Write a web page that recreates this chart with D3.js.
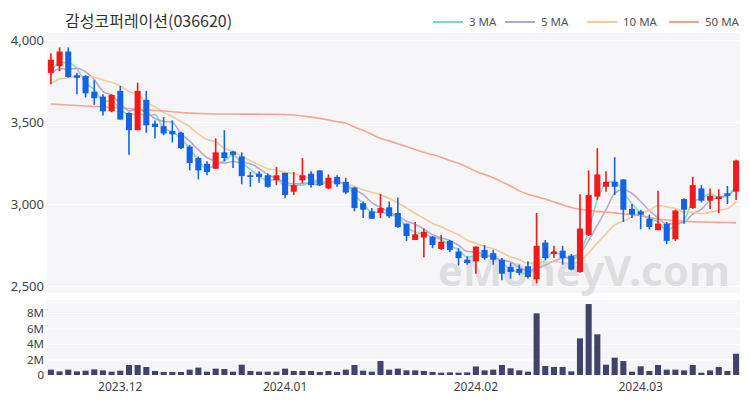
<!DOCTYPE html>
<html>
<head>
<meta charset="utf-8">
<script src="https://cdn.jsdelivr.net/npm/d3@7"></script>
<style>
  body { margin: 0; background: #fff; }
  svg { display: block; }
</style>
</head>
<body>
<svg id="chart" width="750" height="400"></svg>
<script>
/*************************************** data ***************************/
let dates = [
    "11.21", "11.22", "11.23", "11.24", "11.27", "11.28", "11.29", "11.30",
    "12.01", "12.04", "12.05", "12.06", "12.07", "12.08", "12.11", "12.12", "12.13", "12.14", "12.15",
    "12.18", "12.19", "12.20", "12.21", "12.22", "12.26", "12.27", "12.28",
    "01.02", "01.03", "01.04", "01.05", "01.08", "01.09", "01.10", "01.11", "01.12", "01.15", "01.16",
    "01.17", "01.18", "01.19", "01.22", "01.23", "01.24", "01.25", "01.26", "01.29", "01.30", "01.31",
    "02.01", "02.02", "02.05", "02.06", "02.07", "02.08", "02.13", "02.14", "02.15", "02.16", "02.19",
    "02.20", "02.21", "02.22", "02.23", "02.26", "02.27", "02.28", "02.29",
    "03.04", "03.05", "03.06", "03.07", "03.08", "03.11", "03.12", "03.13", "03.14", "03.15", "03.18", "03.19"
]
let opens = [
    3800, 3840, 3930, 3785, 3780, 3685, 3655, 3565, 3690, 3555,
    3450, 3635, 3490, 3475, 3445, 3435, 3350, 3280, 3245, 3215,
    3315, 3320, 3290, 3175, 3185, 3175, 3145, 3190, 3075, 3145,
    3185, 3205, 3095, 3165, 3135, 3100, 3005, 2955, 2945, 2980,
    2945, 2880, 2780, 2795, 2800, 2725, 2775, 2710, 2660, 2650,
    2720, 2700, 2660, 2615, 2605, 2620, 2540, 2765, 2695, 2715,
    2685, 2585, 2810, 3045, 3105, 3135, 3150, 2970, 2955, 2910,
    2840, 2880, 2785, 3030, 2975, 3095, 3020, 3030, 3065, 3075
]
let highs = [
    3920, 3955, 3955, 3800, 3785, 3755, 3670, 3670, 3720, 3560,
    3740, 3690, 3510, 3530, 3510, 3440, 3360, 3290, 3260, 3400,
    3450, 3325, 3315, 3195, 3200, 3185, 3225, 3190, 3195, 3280,
    3200, 3205, 3180, 3175, 3160, 3105, 3015, 2975, 3060, 3015,
    3040, 2880, 2890, 2850, 2805, 2810, 2780, 2730, 2680, 2740,
    2750, 2720, 2670, 2640, 2630, 2650, 2945, 2780, 2745, 2745,
    2695, 3060, 3205, 3340, 3200, 3285, 3150, 3000, 2965, 2935,
    3080, 2890, 2965, 3035, 3165, 3115, 3095, 3090, 3110, 3270
]
let lows = [
    3730, 3810, 3770, 3670, 3650, 3605, 3540, 3560, 3515, 3300,
    3450, 3435, 3400, 3420, 3375, 3335, 3205, 3150, 3175, 3215,
    3260, 3220, 3120, 3105, 3130, 3100, 3115, 3035, 3055, 3125,
    3100, 3110, 3090, 3105, 3060, 2955, 2915, 2910, 2915, 2915,
    2855, 2775, 2780, 2675, 2730, 2720, 2705, 2625, 2630, 2575,
    2660, 2630, 2535, 2545, 2565, 2545, 2515, 2660, 2670, 2630,
    2595, 2580, 2805, 3025, 3075, 3055, 2890, 2915, 2845, 2845,
    2840, 2755, 2775, 2880, 2970, 3010, 2970, 2945, 3000, 3025
]
let closes = [
    3880, 3930, 3775, 3770, 3675, 3645, 3565, 3665, 3515, 3450,
    3690, 3480, 3470, 3430, 3425, 3340, 3250, 3205, 3195, 3315,
    3280, 3300, 3170, 3165, 3165, 3105, 3175, 3055, 3115, 3175,
    3115, 3115, 3160, 3120, 3070, 2975, 2965, 2910, 2975, 2925,
    2860, 2805, 2815, 2830, 2750, 2770, 2720, 2670, 2640, 2740,
    2670, 2660, 2575, 2585, 2580, 2555, 2745, 2670, 2710, 2670,
    2600, 2850, 3055, 3180, 3135, 3105, 2965, 2935, 2935, 2860,
    2880, 2775, 2960, 2965, 3115, 3020, 3050, 3045, 3050, 3265
]
// closes before the first visible day, read back from the start of the short MA lines
let priorCloses = [3660, 3690, 3700, 3680, 3685, 3735, 3800, 3740, 3780]
// volume in millions of shares
let volumes = [
    0.69, 0.47, 0.69, 0.47, 0.56, 0.73, 0.60, 0.43, 0.56, 1.29,
    1.29, 1.03, 0.52, 0.39, 0.39, 0.39, 0.69, 0.95, 0.43, 0.82,
    0.77, 0.43, 1.33, 0.52, 0.43, 0.43, 0.43, 0.82, 0.52, 0.52,
    0.52, 0.39, 0.52, 0.39, 0.69, 1.29, 0.56, 0.43, 1.80, 0.69,
    0.82, 0.60, 0.60, 0.52, 0.39, 0.30, 0.34, 0.30, 0.34, 1.10,
    0.60, 0.69, 1.29, 0.86, 0.60, 0.43, 7.96, 1.16, 1.03, 1.03,
    0.47, 4.73, 9.16, 5.25, 1.33, 2.24, 1.80, 0.43, 1.12, 0.52,
    1.29, 0.69, 0.69, 0.60, 1.29, 0.30, 0.60, 1.03, 0.52, 2.75
]
// 50 day MA (needs history not shown)
let ma50 = [
    3610, 3607, 3604, 3601, 3598, 3595, 3592, 3589, 3586, 3582,
    3578, 3574, 3570, 3567, 3563, 3558, 3555, 3552, 3550, 3549,
    3549, 3549, 3548, 3548, 3548, 3547, 3547, 3545, 3543, 3537,
    3530, 3522, 3512, 3502, 3492, 3470, 3448, 3425, 3400, 3385,
    3368, 3350, 3332, 3315, 3300, 3285, 3265, 3248, 3225, 3200,
    3180, 3160, 3135, 3110, 3080, 3060, 3045, 3030, 3012, 2995,
    2978, 2968, 2960, 2955, 2950, 2946, 2940, 2935, 2928, 2918,
    2908, 2902, 2898, 2895, 2892, 2890, 2889, 2888, 2887, 2886
]
let monthTicks = ["12.01", "01.02", "02.01", "03.04"]
let monthLabels = ["2023.12", "2024.01", "2024.02", "2024.03"]
let priceTicks = [2500, 3000, 3500, 4000]
let volumeTicks = [0, 2, 4, 6, 8]
let maNames = ["3 MA", "5 MA", "10 MA", "50 MA"]

/*************************************** style ***************************/
let upColor = "#f01a1a"
let downColor = "#1463e0"
let volColor = "#41436a"
let maColors = ["#7fd6cb", "#b3a6d4", "#f4c892", "#f5a08e"]
let panelBg = "#f6f6f8"
let textColor = "#444"
let numFont = "'Noto Sans', sans-serif"

/*************************************** helpers ***************************/
function movingAverage(n) {
    let all = priorCloses.concat(closes)
    let off = priorCloses.length
    return closes.map((c, i) => {
        let s = 0
        for (let k = 0; k < n; k++) s += all[off + i - k]
        return s / n
    })
}

function drawChart() {
    const svg = d3.select("#chart")
    const left = 47, right = 740
    const priceTop = 33, priceBottom = 293
    const volTop = 300, volBottom = 375

    let xScale = d3.scaleBand()
        .domain(dates)
        .range([left, right])
        .paddingInner(0.3)
        .paddingOuter(0.1)
    let xc = d => xScale(d) + xScale.bandwidth() / 2

    let yScale = d3.scaleLinear()
        .domain([2457, 4043])
        .range([priceBottom, priceTop])
    let vScale = d3.scaleLinear()
        .domain([0, 9.68])
        .range([volBottom, volTop])

    // panel backgrounds
    svg.append("rect").attr("x", left).attr("y", priceTop)
        .attr("width", right - left).attr("height", priceBottom - priceTop)
        .attr("fill", panelBg)
    svg.append("rect").attr("x", left).attr("y", volTop)
        .attr("width", right - left).attr("height", volBottom - volTop)
        .attr("fill", panelBg)

    // price axis + grid
    svg.append("g")
        .attr("transform", "translate(" + left + ",0)")
        .call(d3.axisLeft(yScale).tickValues(priceTicks).tickFormat(d3.format(",")).tickSize(-(right - left)).tickPadding(3))
        .call(g => g.select(".domain").remove())
        .call(g => g.selectAll("line").attr("stroke", "#fff").attr("stroke-width", 1.2))
        .call(g => g.selectAll("text").attr("fill", textColor).style("font-size", "13px").style("font-family", numFont))

    // volume axis + grid
    svg.append("g")
        .attr("transform", "translate(" + left + ",0)")
        .call(d3.axisLeft(vScale).tickValues(volumeTicks).tickFormat(d => d === 0 ? "0" : d + "M").tickSize(-(right - left)).tickPadding(3))
        .call(g => g.select(".domain").remove())
        .call(g => g.selectAll("line").attr("stroke", "#fff").attr("stroke-width", 1.2))
        .call(g => g.selectAll("text").attr("fill", textColor).style("font-size", "11.5px").style("font-family", numFont))

    // x axis labels
    svg.append("g")
        .attr("transform", "translate(0," + volBottom + ")")
        .call(d3.axisBottom(xScale).tickValues(monthTicks).tickFormat((d, i) => monthLabels[i]).tickSize(0).tickPadding(7))
        .call(g => g.select(".domain").remove())
        .call(g => g.selectAll("text").attr("fill", textColor).style("font-size", "12px").style("font-family", numFont))

    // watermark
    svg.append("text")
        .attr("x", 730).attr("y", 286)
        .attr("text-anchor", "end")
        .style("font-family", "'Noto Sans', sans-serif")
        .style("font-size", "42px")
        .style("font-weight", "bold")
        .attr("fill", "#d6d6d8")
        .attr("fill-opacity", 0.75)
        .text("eMoneyV.com")

    // moving averages
    let maSeries = [movingAverage(3), movingAverage(5), movingAverage(10), ma50]
    let line = d3.line()
        .x((d, i) => xc(dates[i]))
        .y(d => yScale(d))
        .curve(d3.curveMonotoneX)
    svg.selectAll(".maLine")
        .data(maSeries)
        .enter()
        .append("path")
        .attr("class", "maLine")
        .attr("d", d => line(d))
        .attr("fill", "none")
        .attr("stroke", (d, i) => maColors[i])
        .attr("stroke-width", 1.6)
        .attr("stroke-opacity", 0.95)

    // candles
    let idx = d3.range(dates.length)
    let colorOf = i => closes[i] >= opens[i] ? upColor : downColor
    svg.selectAll(".wick")
        .data(idx)
        .enter()
        .append("line")
        .attr("class", "wick")
        .attr("x1", i => xc(dates[i]))
        .attr("x2", i => xc(dates[i]))
        .attr("y1", i => yScale(highs[i]))
        .attr("y2", i => yScale(lows[i]))
        .attr("stroke", colorOf)
        .attr("stroke-width", 1.6)
    svg.selectAll(".body")
        .data(idx)
        .enter()
        .append("rect")
        .attr("class", "body")
        .attr("x", i => xScale(dates[i]))
        .attr("width", xScale.bandwidth())
        .attr("y", i => yScale(Math.max(opens[i], closes[i])))
        .attr("height", i => Math.max(1.5, Math.abs(yScale(opens[i]) - yScale(closes[i]))))
        .attr("fill", colorOf)

    // volume bars
    svg.selectAll(".vol")
        .data(idx)
        .enter()
        .append("rect")
        .attr("class", "vol")
        .attr("x", i => xScale(dates[i]))
        .attr("width", xScale.bandwidth())
        .attr("y", i => vScale(volumes[i]))
        .attr("height", i => volBottom - vScale(volumes[i]))
        .attr("fill", volColor)

    // title
    svg.append("text")
        .attr("x", 65).attr("y", 27)
        .style("font-family", "'Noto Sans CJK KR', sans-serif")
        .style("font-size", "16px")
        .attr("fill", "#333")
        .text("감성코퍼레이션(036620)")

    // legend
    let legendX = [433, 505, 587, 669]
    let lg = svg.selectAll(".legend")
        .data(maNames)
        .enter()
        .append("g")
        .attr("class", "legend")
        .attr("transform", (d, i) => "translate(" + legendX[i] + ",22)")
    lg.append("line")
        .attr("x1", 0).attr("x2", 30)
        .attr("stroke", (d, i) => maColors[i])
        .attr("stroke-width", 2)
    lg.append("text")
        .attr("x", 36).attr("y", 4)
        .style("font-family", numFont)
        .style("font-size", "11.5px")
        .attr("fill", "#555")
        .text(d => d)
}

drawChart()
</script>
</body>
</html>
